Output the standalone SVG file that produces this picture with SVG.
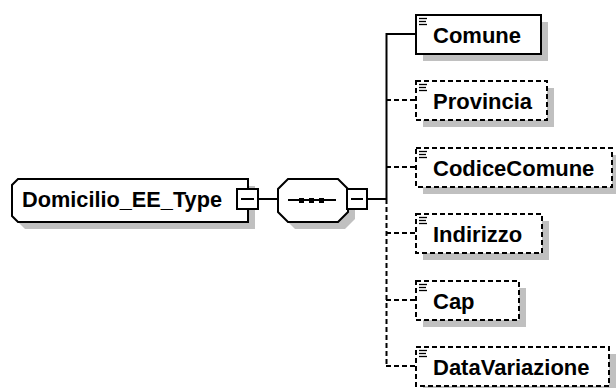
<svg xmlns="http://www.w3.org/2000/svg" width="616" height="388" viewBox="0 0 616 388">
<style>
.sh{fill:#c0c0c0;stroke:none}
.box{fill:#fff;stroke:#000;stroke-width:2}
.opt{fill:#fff;stroke:#000;stroke-width:2;stroke-dasharray:5 3}
.ln{stroke:#000;stroke-width:2;fill:none}
.dl{stroke:#000;stroke-width:2;fill:none;stroke-dasharray:5 3}
.ic{stroke:#000;stroke-width:1.3}
.t{font-family:"Liberation Sans",Arial,sans-serif;font-weight:bold;font-size:22px;fill:#000}
</style>
<defs>
<g id="icon"><line class="ic" x1="3" y1="3.5" x2="11" y2="3.5"/><line class="ic" x1="3" y1="6.5" x2="10" y2="6.5"/><line class="ic" x1="3" y1="9.5" x2="11" y2="9.5"/></g>
</defs>
<rect width="616" height="388" fill="#fff"/>
<g id="connectors">
<line class="ln" x1="258" y1="199" x2="278" y2="199"/>
<line class="ln" x1="367" y1="199" x2="387" y2="199"/>
<line class="ln" x1="386.5" y1="33" x2="386.5" y2="199"/>
<line class="dl" x1="386.5" y1="199" x2="386.5" y2="366"/>
<line class="ln" x1="386" y1="34" x2="416" y2="34"/>
<line class="dl" x1="386" y1="100" x2="416" y2="100"/>
<line class="dl" x1="386" y1="167" x2="416" y2="167"/>
<line class="dl" x1="386" y1="233" x2="416" y2="233"/>
<line class="dl" x1="386" y1="300" x2="416" y2="300"/>
<line class="dl" x1="386" y1="366" x2="416" y2="366"/>
</g>
<g id="Domicilio_EE_Type">
<path class="sh" d="M25,186 L255,186 L255,229 L25,229 L19,223 L19,192 Z"/>
<path class="box" d="M18,179 L248,179 L248,222 L18,222 L12,216 L12,185 Z"/>
<text class="t" x="22" y="207" textLength="200" lengthAdjust="spacingAndGlyphs">Domicilio_EE_Type</text>
<rect class="box" x="237" y="189" width="21" height="20"/>
<line class="ln" x1="241" y1="199" x2="254" y2="199"/>
</g>
<g id="sequence">
<path class="sh" d="M295,186 L345,186 L355,196 L355,219 L345,229 L295,229 L285,219 L285,196 Z"/>
<path class="box" d="M288,179 L338,179 L348,189 L348,212 L338,222 L288,222 L278,212 L278,189 Z"/>
<line class="ln" x1="288" y1="200" x2="336" y2="200"/>
<rect x="299" y="198" width="5" height="5" fill="#000"/>
<rect x="309" y="198" width="5" height="5" fill="#000"/>
<rect x="319" y="198" width="5" height="5" fill="#000"/>
<rect class="box" x="347" y="189" width="20" height="20"/>
<line class="ln" x1="351" y1="199" x2="363" y2="199"/>
</g>
<g id="Comune">
<rect class="sh" x="423" y="22" width="125" height="39"/>
<rect class="box" x="416" y="15" width="125" height="39"/>
<use href="#icon" x="416" y="15"/>
<text class="t" x="433" y="43">Comune</text>
</g>
<g id="Provincia">
<rect class="sh" x="423" y="88" width="131" height="39"/>
<rect class="opt" x="416" y="81" width="131" height="39"/>
<use href="#icon" x="416" y="81"/>
<text class="t" x="433" y="109">Provincia</text>
</g>
<g id="CodiceComune">
<rect class="sh" x="423" y="155" width="196" height="39"/>
<rect class="opt" x="416" y="148" width="196" height="39"/>
<use href="#icon" x="416" y="148"/>
<text class="t" x="433" y="176">CodiceComune</text>
</g>
<g id="Indirizzo">
<rect class="sh" x="423" y="221" width="126" height="39"/>
<rect class="opt" x="416" y="214" width="126" height="39"/>
<use href="#icon" x="416" y="214"/>
<text class="t" x="433" y="242">Indirizzo</text>
</g>
<g id="Cap">
<rect class="sh" x="423" y="288" width="103" height="39"/>
<rect class="opt" x="416" y="281" width="103" height="39"/>
<use href="#icon" x="416" y="281"/>
<text class="t" x="433" y="309">Cap</text>
</g>
<g id="DataVariazione">
<rect class="sh" x="423" y="354" width="193" height="39"/>
<rect class="opt" x="416" y="347" width="193" height="39"/>
<use href="#icon" x="416" y="347"/>
<text class="t" x="433" y="375">DataVariazione</text>
</g>
</svg>
